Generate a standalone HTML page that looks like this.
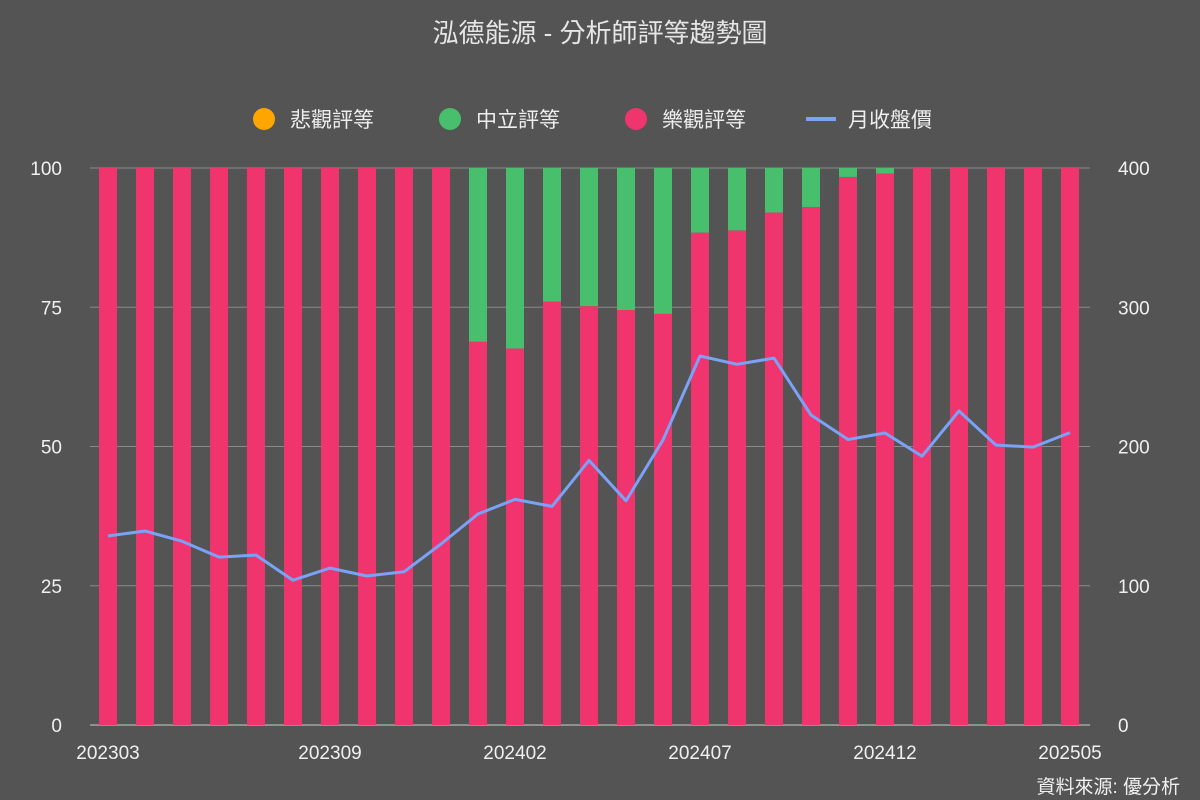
<!DOCTYPE html>
<html><head><meta charset="utf-8"><style>
body{margin:0;background:#545454;}
svg{display:block;font-family:"Liberation Sans","Noto Sans CJK TC",sans-serif;}
</style></head><body>
<svg id="c" width="1200" height="800">
<rect width="1200" height="800" fill="#545454"/>
<text x="600" y="42" text-anchor="middle" font-size="26" fill="#e6e6e6">泓德能源 - 分析師評等趨勢圖</text>
<g font-size="21" fill="#eeeeee">
<circle cx="264" cy="119" r="11" fill="#ffa500"/>
<text x="290" y="127">悲觀評等</text>
<circle cx="450" cy="119" r="11" fill="#48bf6c"/>
<text x="476" y="127">中立評等</text>
<circle cx="636" cy="119" r="11" fill="#f0346e"/>
<text x="662" y="127">樂觀評等</text>
<line x1="806" y1="119" x2="836" y2="119" stroke="#7aa2f7" stroke-width="4"/>
<text x="848" y="127">月收盤價</text>
</g>
<g id="grid"></g><g id="bars"></g><g id="line"></g><g id="axes"></g>
<text x="1180" y="793" text-anchor="end" font-size="19" fill="#f0f0f0">資料來源: 優分析</text>
</svg>
<script>
const months=["202303","202304","202305","202306","202307","202308","202309","202310","202311","202312","202401","202402","202403","202404","202405","202406","202407","202408","202409","202410","202411","202412","202501","202502","202503","202504","202505"];
const bullish=[100,100,100,100,100,100,100,100,100,100,68.8,67.6,76,75.2,74.5,73.8,88.4,88.8,92,93,98.4,99,100,100,100,100,100];
const neutral=[0,0,0,0,0,0,0,0,0,0,31.2,32.4,24,24.8,25.5,26.2,11.6,11.2,8,7,1.6,1,0,0,0,0,0];
const bearish=[0,0,0,0,0,0,0,0,0,0,0,0,0,0,0,0,0,0,0,0,0,0,0,0,0,0,0];
const price=[135.7,139.3,132,120.6,122,104,112.7,107,110,130,151.5,162,157,190,161,204.7,265,259,263.5,222.6,205,209.7,193,225.5,201,199.6,210];
const leftTicks=[0,25,50,75,100];
const rightTicks=[0,100,200,300,400];
const xLabels=["202303","202309","202402","202407","202412","202505"];
const NS="http://www.w3.org/2000/svg";
const X0=90,X1=1090,Y0=725,Y1=168;
const step=(1070-108)/(months.length-1);
const xs=i=>108+i*step;
const yL=v=>Y0-(v/100)*(Y0-Y1);
const yR=v=>Y0-(v/400)*(Y0-Y1);
function mk(tag,attrs,parent){const e=document.createElementNS(NS,tag);for(const k in attrs)e.setAttribute(k,attrs[k]);document.getElementById(parent).appendChild(e);return e;}
leftTicks.forEach((t,i)=>{
 const l=mk('line',{x1:X0,x2:X1,y1:yL(t),y2:yL(t),stroke:t===0?'#cccccc':'#8a8a8a','stroke-width':1},'grid');
 
 
 const a=mk('text',{x:62,y:yL(t)+7,'text-anchor':'end','font-size':19,fill:'#f0f0f0'},'axes');a.textContent=t;
 
 
 const b=mk('text',{x:1118,y:yR(rightTicks[i])+7,'font-size':19,fill:'#f0f0f0'},'axes');b.textContent=rightTicks[i];
 
 
});
const bw=18;
months.forEach((m,i)=>{
 const x=xs(i)-bw/2;
 const r1=mk('rect',{x:x,y:yL(bullish[i]),width:bw,height:Y0-yL(bullish[i]),fill:'#f0346e'},'bars');
 
 
 if(neutral[i]>0){const top=bullish[i]+neutral[i];
  const r2=mk('rect',{x:x,y:yL(top),width:bw,height:yL(bullish[i])-yL(top),fill:'#48bf6c'},'bars');
  
  }
 if(bearish[i]>0){const b0=bullish[i]+neutral[i],top=b0+bearish[i];
  const r3=mk('rect',{x:x,y:yL(top),width:bw,height:yL(b0)-yL(top),fill:'#ffa500'},'bars');
  
  }
 const idx=xLabels.indexOf(m);
 if(idx>=0){const t=mk('text',{x:xs(i),y:759,'text-anchor':'middle','font-size':19,fill:'#f0f0f0'},'axes');t.textContent=m;
  
  }
});
const pts=price.map((p,i)=>xs(i).toFixed(1)+','+yR(p).toFixed(1)).join(' ');
const pl=mk('polyline',{points:pts,fill:'none',stroke:'#7aa2f7','stroke-width':3,'stroke-linejoin':'round'},'line');


</script>
</body></html>
